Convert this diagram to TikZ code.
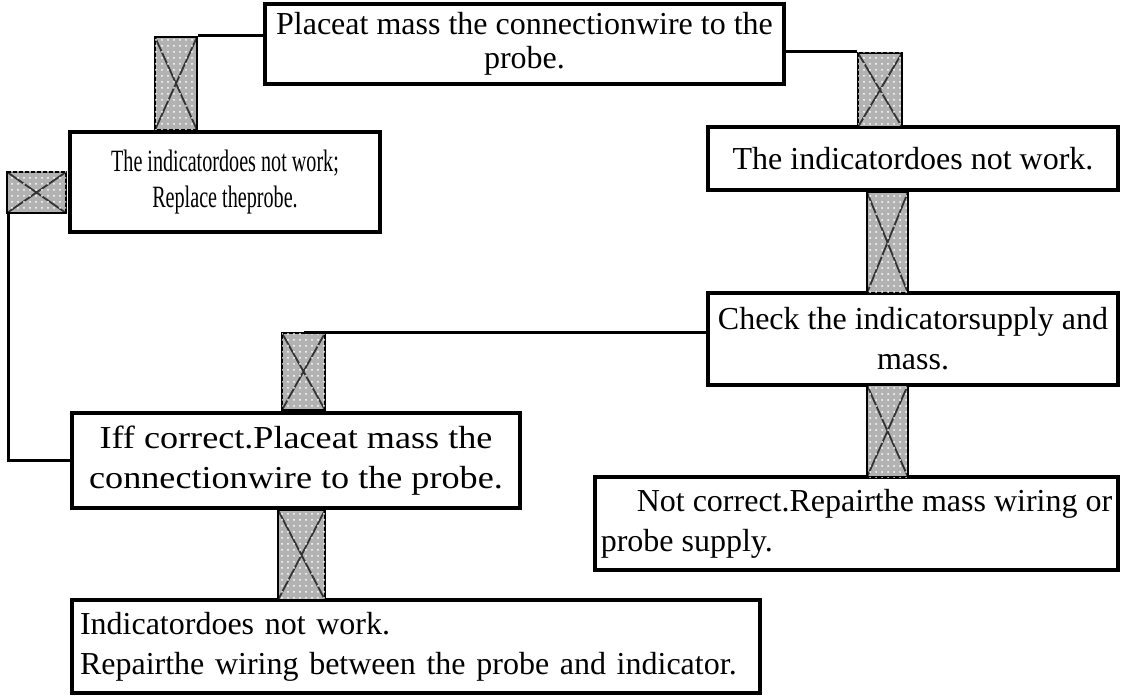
\documentclass[tikz,border=0pt]{standalone}
\usepackage{fontspec}
\setmainfont{Liberation Serif}
\newfontfamily\narrowfont[FakeStretch=0.65]{Liberation Serif}
\newfontfamily\widefont[FakeStretch=1.13]{Liberation Serif}
\usetikzlibrary{patterns,positioning}
\tikzset{
    basic/.style  = {draw, line width=2pt, rectangle, inner sep=4pt, font=\fontsize{16}{20}\selectfont},
    step box/.style = {basic, align=center},
    left box/.style = {basic, align=left},
    xbox/.style = {draw, line width=1pt, inner sep=0pt, fill=gray!60,
        postaction={pattern=dots, pattern color=white},
        path picture={\draw[black!80, line width=0.9pt]
            (path picture bounding box.north west) -- (path picture bounding box.south east)
            (path picture bounding box.north east) -- (path picture bounding box.south west);}},
    link/.style = {line width=1.5pt}
}

\begin{document}
\begin{tikzpicture}[x=0.5pt, y=-0.5pt]
	\useasboundingbox (0,0) rectangle (1124,700);
		\begin{scope}[every node/.style={step box}]
			\node[minimum width=259.5pt, minimum height=39pt, font=\fontsize{16}{17}\selectfont] (place) at (524.5,44)
				{Placeat mass the connectionwire to the\\probe.};
			\node[minimum width=155pt, minimum height=50pt, font=\narrowfont\fontsize{15.5}{18}\selectfont] (replace) at (225,182)
				{The indicatordoes not work;\\Replace theprobe.};
			\node[minimum width=205pt, minimum height=31.5pt] (nowork) at (913,158.5)
				{The indicatordoes not work.};
			\node[minimum width=205pt, minimum height=46pt] (check) at (913,339)
				{Check the indicatorsupply and\\mass.};
			\node[minimum width=224pt, minimum height=47.5pt, font=\widefont\fontsize{16}{20}\selectfont] (iff) at (296,460.5)
				{Iff correct.Placeat mass the\\connectionwire to the probe.};
			\node[left box, inner sep=2pt, minimum width=261.5pt, minimum height=46.5pt] (notok) at (856.5,523.5)
				{\hspace*{18pt}Not correct.Repairthe mass wiring or\\probe supply.};
			\node[left box, text width=336pt, minimum height=46.5pt] (wiring) at (416,646.5)
				{Indicatordoes not work.\\Repairthe wiring between the probe and indicator.};
		\end{scope}
		\begin{scope}[every node/.style={xbox}]
			\node[minimum width=21pt, minimum height=46.5pt] (xa) at (176,83.5) {};
			\node[minimum width=22pt, minimum height=37pt] (xc) at (880,90) {};
			\node[minimum width=20.5pt, minimum height=50.5pt] (xd) at (887.5,242.5) {};
			\node[minimum width=21.5pt, minimum height=38.5pt] (xe) at (303.5,371.5) {};
			\node[minimum width=23.5pt, minimum height=45pt] (xf) at (301.5,555) {};
			\node[minimum width=20.5pt, minimum height=46pt] (xg) at (887.5,431) {};
			\node[minimum width=29.5pt, minimum height=20.5pt] (flag) at (36.5,192.5) {};
		\end{scope}
		\draw[link] (xa.north east) -- (xa.north east -| place.west);
		\draw[link] (xc.north west) -- (xc.north west -| place.east);
		\draw[link] (xe.north) -- (xe.north -| check.west);
		\draw[link] ([xshift=1pt]flag.south west) |- (iff.west);
\end{tikzpicture}
\end{document}
